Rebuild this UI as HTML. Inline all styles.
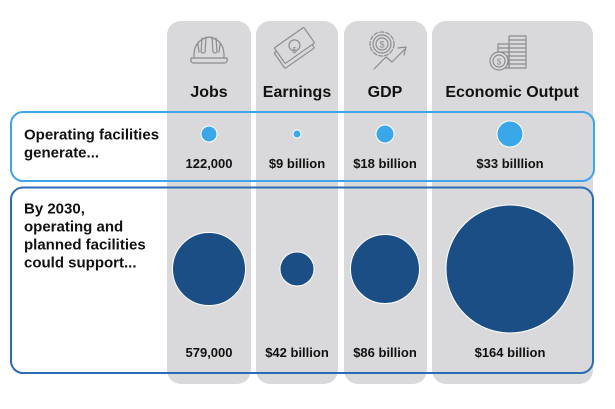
<!DOCTYPE html>
<html><head><meta charset="utf-8">
<style>
html,body{margin:0;padding:0;background:#fff;}
svg{display:block;}
text{font-family:"Liberation Sans",Arial,sans-serif;font-weight:bold;fill:#111;}
</style></head>
<body>
<svg width="615" height="409" viewBox="0 0 615 409" xmlns="http://www.w3.org/2000/svg">
  <!-- columns -->
  <g fill="#d9d9db">
    <rect x="167" y="21" width="84" height="363" rx="14"/>
    <rect x="256" y="21" width="82" height="363" rx="14"/>
    <rect x="344" y="21" width="83" height="363" rx="14"/>
    <rect x="432" y="21" width="161" height="363" rx="14"/>
  </g>

  <!-- icons -->
  <g fill="none" stroke="#8c8c8e" stroke-width="1.2" stroke-linejoin="round" stroke-linecap="round">
    <!-- hard hat -->
    <path d="M191,58 L227,58 Q228,63 224,63 L194,63 Q190,63 191,58 Z"/>
    <path d="M194,58 Q193,40 209,37 Q225,40 224,58"/>
    <path d="M202,38 L201,52 Q203,54 205,52 L206,37"/>
    <path d="M212,37 L213,52 Q215,54 217,52 L216,38"/>
    <path d="M198,44 L199,52 M220,44 L219,52"/>
    <!-- banknotes -->
    <g transform="rotate(-35 294 50)">
      <rect x="276" y="41" width="36" height="19" rx="1"/>
      <rect x="279" y="37" width="36" height="19" rx="1" fill="#d9d9db"/>
      <circle cx="297" cy="46.5" r="5.5"/>
    </g>
    <!-- GDP coin + arrow -->
    <circle cx="382" cy="44" r="12" stroke-dasharray="4 2"/>
    <circle cx="382" cy="44" r="9"/>
    <circle cx="382" cy="44" r="6"/>
    <polyline points="374,69 386,57 392,62 405,49"/>
    <polyline points="398,48 406,47 404,55"/>
    <!-- coin stacks -->
    <rect x="509" y="36" width="17" height="32"/>
    <path d="M509,40 H526 M509,44 H526 M509,48 H526 M509,52 H526 M509,56 H526 M509,60 H526 M509,64 H526"/>
    <rect x="498" y="44" width="11" height="24"/>
    <path d="M498,48 H509 M498,52 H509 M498,56 H509 M498,60 H509 M498,64 H509"/>
    <circle cx="499" cy="61" r="9" fill="#d9d9db"/>
    <circle cx="499" cy="61" r="6"/>
  </g>
  <text x="294.5" y="53" font-size="8" text-anchor="middle" style="fill:#8c8c8e;font-weight:normal">$</text>
  <text x="382" y="47.5" font-size="9" text-anchor="middle" style="fill:#8c8c8e;font-weight:normal">$</text>
  <text x="499" y="64.5" font-size="8" text-anchor="middle" style="fill:#8c8c8e;font-weight:normal">$</text>

  <!-- header labels -->
  <g font-size="16" text-anchor="middle">
    <text x="209" y="97">Jobs</text>
    <text x="297" y="97">Earnings</text>
    <text x="385" y="97">GDP</text>
    <text x="512" y="97">Economic Output</text>
  </g>

  <!-- boxes -->
  <rect x="11" y="112" width="583" height="69" rx="12" fill="none" stroke="#3da5e8" stroke-width="2"/>
  <rect x="11" y="187.5" width="582" height="185.5" rx="12" fill="none" stroke="#2b6cb5" stroke-width="2"/>

  <!-- row labels -->
  <g font-size="15">
    <text x="24" y="139.5">Operating facilities</text>
    <text x="24" y="157.5">generate...</text>
    <text x="24" y="213.5">By 2030,</text>
    <text x="24" y="231.5">operating and</text>
    <text x="24" y="249.5">planned facilities</text>
    <text x="24" y="267.5">could support...</text>
  </g>

  <!-- top circles -->
  <g fill="#3aa8e8" stroke="#fff" stroke-width="1">
    <circle cx="209" cy="134" r="8"/>
    <circle cx="297" cy="134" r="4"/>
    <circle cx="385" cy="134" r="9"/>
    <circle cx="510" cy="134" r="13"/>
  </g>
  <!-- bottom circles -->
  <g fill="#1a4e85" stroke="#fff" stroke-width="1">
    <circle cx="209" cy="269" r="36.5"/>
    <circle cx="297" cy="269" r="17"/>
    <circle cx="385" cy="269" r="34.5"/>
    <circle cx="510" cy="269" r="64"/>
  </g>

  <!-- values -->
  <g font-size="13" text-anchor="middle">
    <text x="209" y="168">122,000</text>
    <text x="297" y="168">$9 billion</text>
    <text x="385" y="168">$18 billion</text>
    <text x="510" y="168">$33 billlion</text>
    <text x="209" y="357">579,000</text>
    <text x="297" y="357">$42 billion</text>
    <text x="385" y="357">$86 billion</text>
    <text x="510" y="357">$164 billion</text>
  </g>
</svg>
</body></html>
